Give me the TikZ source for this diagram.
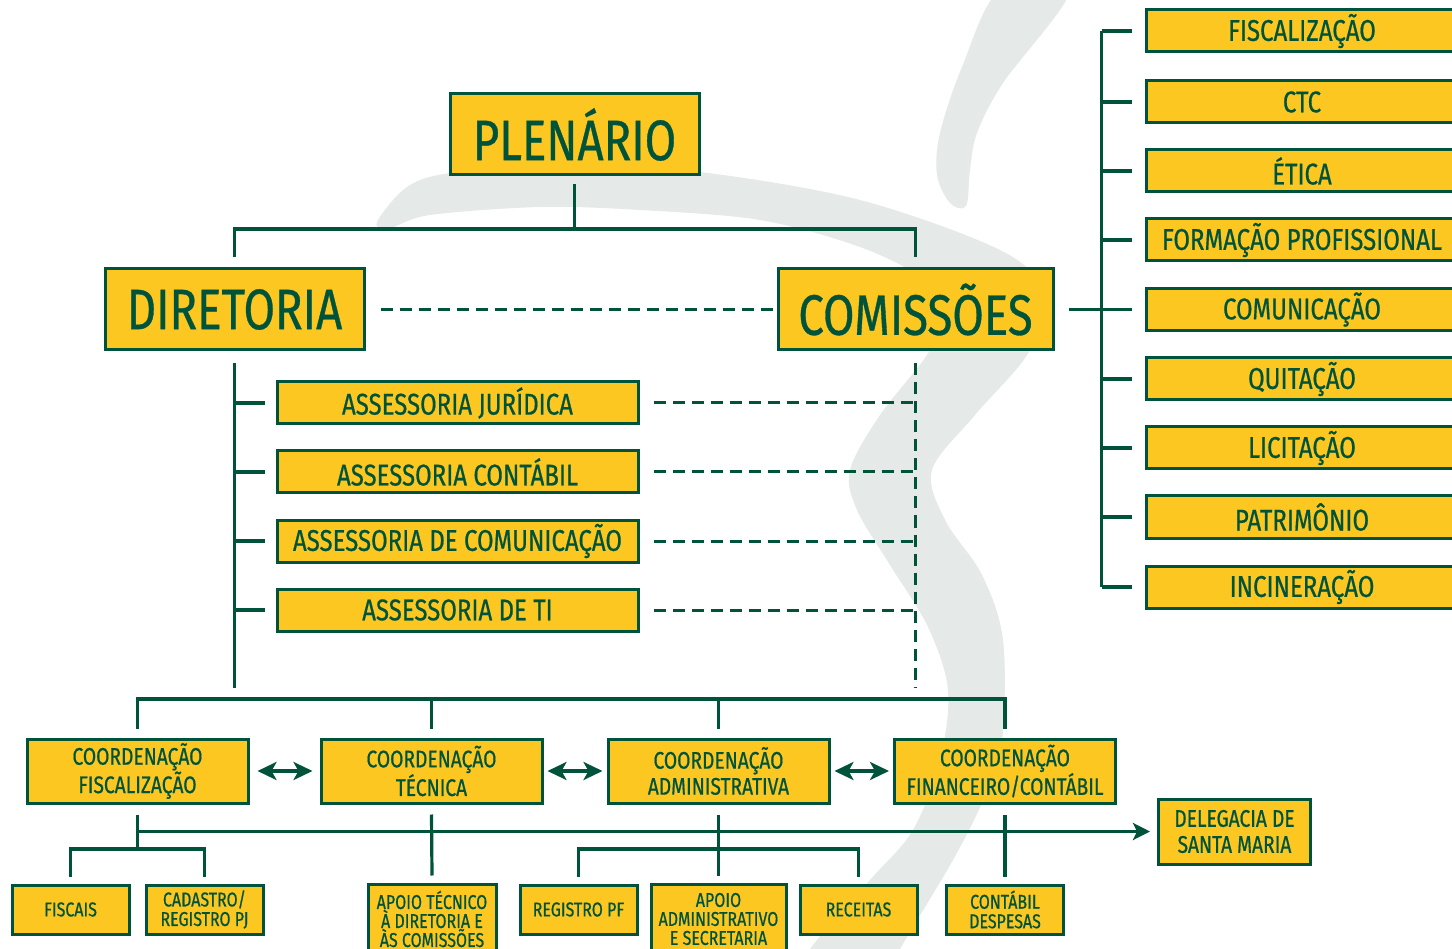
\documentclass[tikz,border=0pt]{standalone}
\usepackage{fontspec}
\setmainfont[FakeStretch=0.8, FakeBold=0.6]{Fira Sans}
\usetikzlibrary{arrows.meta}
\definecolor{ylw}{HTML}{FCC720}
\definecolor{grn}{HTML}{00533B}
\definecolor{bgg}{HTML}{E5E9E7}
\tikzset{
  box/.style={draw=grn, fill=ylw, line width=3pt, text=grn, align=center, inner sep=0pt, anchor=center},
  bigbox/.style={box, font=\fontsize{57}{60}\selectfont},
  midbox/.style={box, minimum height=42pt, font=\fontsize{30}{32}\selectfont},
  coordbox/.style={box, minimum width=221pt, minimum height=64pt, font=\fontsize{24}{26}\selectfont},
  smallbox/.style={box, minimum height=49pt, font=\fontsize{20}{19.5}\selectfont},
  conn/.style={draw=grn, line width=3.2pt},
  dashconn/.style={draw=grn, line width=3pt, dash pattern=on 12pt off 7pt},
  tip/.style={Stealth[length=19pt,width=18pt,inset=5pt]},
  darrow/.style={conn, {Stealth[length=19pt,width=18pt,inset=5pt]}-{Stealth[length=19pt,width=18pt,inset=5pt]}},
  sarrow/.style={conn, -{Stealth[length=17pt,width=17pt,inset=4pt]}}
}
\begin{document}
\begin{tikzpicture}[x=1pt,y=-1pt]
\useasboundingbox (0,0) rectangle (1452,949);
\clip (0,0) rectangle (1452,949);
\fill[white] (0,0) rectangle (1452,949);
% background swoosh
\fill[bgg] plot[smooth cycle, tension=0.55] coordinates {
 (377,222) (407,187) (450,173) (560,163) (700,172) (860,200) (1000,250) (1040,290)
 (1030,350) (975,415) (932,470) (945,520) (982,575) (1003,640) (1002,740) (983,800)
 (953,860) (900,949) (880,990) (790,990) (810,949) (870,880) (913,830) (940,760)
 (948,690) (928,627) (890,565) (857,510) (850,470) (880,415) (927,355) (945,315)
 (925,280) (860,247) (760,220) (640,210) (540,207) (430,215) (390,228)};
\fill[bgg] plot[smooth cycle, tension=0.55] coordinates {
 (1000,-10) (962,67) (940,133) (937,175) (950,203) (966,206) (970,170) (977,133)
 (1003,83) (1070,-10)};

% top level
\node[bigbox, minimum width=249pt, minimum height=81pt] (plen) at (574.5,134.5) {PLENÁRIO};
\node[bigbox, minimum width=259pt, minimum height=81pt] (dir) at (234.5,309.5) {DIRETORIA};
\node[bigbox, minimum width=275pt, minimum height=81pt] (com) at (915.5,309.5) {COMISSÕES};

\coordinate (j1) at (574.5,229);
\draw[conn] ([yshift=-8pt]plen.south) -- (j1);
\draw[conn] ([yshift=10pt]dir.north) |- (j1) -| ([yshift=10pt]com.north);
\draw[dashconn] ([xshift=15pt]dir.east) -- (com.west);

% assessorias
\node[midbox, minimum width=361pt] (a1) at (457.5,403) {ASSESSORIA JURÍDICA};
\node[midbox, minimum width=361pt] (a2) at (457.5,472) {ASSESSORIA CONTÁBIL};
\node[midbox, minimum width=361pt] (a3) at (457.5,541) {ASSESSORIA DE COMUNICAÇÃO};
\node[midbox, minimum width=361pt] (a4) at (457.5,610) {ASSESSORIA DE TI};

\coordinate (dbot) at (234.5,688);
\coordinate (cbot) at (915.5,688);
\draw[conn] ([yshift=-12pt]dir.south) -- (dbot);
\draw[dashconn] ([yshift=-12pt]com.south) -- (cbot);
\foreach \a in {a1,a2,a3,a4}{
  \draw[conn] (\a.west -| dbot) -- ([xshift=-11pt]\a.west);
  \draw[dashconn] ([xshift=14pt]\a.east) -- (\a.east -| cbot);
}

% comissoes list
\coordinate (ct) at (1101.5,309.5);
\draw[conn] ([xshift=14pt]com.east) -- (ct);
\foreach \n/\y/\t in {c1/31/FISCALIZAÇÃO, c2/102/CTC, c3/171/ÉTICA, c4/240/FORMAÇÃO PROFISSIONAL,
  c5/309.5/COMUNICAÇÃO, c6/379/QUITAÇÃO, c7/448/LICITAÇÃO, c8/517/PATRIMÔNIO, c9/587/INCINERAÇÃO}{
  \node[midbox, minimum width=312pt] (\n) at (1302,\y) {\t};
  \draw[conn] (\n.west -| ct) -- ([xshift=-13pt]\n.west);
}
\draw[conn] (c1.west -| ct) -- (c9.west -| ct);

% coordenacoes
\node[coordbox] (cf) at (137.5,771) {COORDENAÇÃO\\FISCALIZAÇÃO};
\node[coordbox] (ctec) at (431.5,771) {COORDENAÇÃO\\TÉCNICA};
\node[coordbox] (cadm) at (718.5,771) {COORDENAÇÃO\\ADMINISTRATIVA};
\node[coordbox] (cfin) at (1005,771) {COORDENAÇÃO\\FINANCEIRO/CONTÁBIL};

\coordinate (hb) at (0,699);
\draw[conn] ([yshift=9pt]cf.north) -- (cf.north |- hb) -- (cfin.north |- hb) -- ([yshift=9pt]cfin.north);
\draw[conn] (ctec.north |- hb) -- ([yshift=9pt]ctec.north);
\draw[conn] (cadm.north |- hb) -- ([yshift=9pt]cadm.north);

\draw[darrow] ([xshift=8pt]cf.east) -- ([xshift=-7pt]ctec.west);
\draw[darrow] ([xshift=4pt]ctec.east) -- ([xshift=-4pt]cadm.west);
\draw[darrow] ([xshift=4pt]cadm.east) -- ([xshift=-4pt]cfin.west);

% delegacia
\node[box, minimum width=152pt, minimum height=65pt, font=\fontsize{24}{26}\selectfont] (del) at (1234.5,831.5) {DELEGACIA DE\\SANTA MARIA};
\draw[sarrow] (cf.south |- del.west) -- ([xshift=-7pt]del.west);

% bottom boxes
\node[smallbox, minimum width=117pt] (fis) at (70.5,909.5) {FISCAIS};
\node[smallbox, minimum width=117pt] (cad) at (204.5,909.5) {CADASTRO/\\REGISTRO PJ};
\node[box, minimum width=128pt, minimum height=70pt, font=\fontsize{20}{19}\selectfont] (apt) at (432,919) {APOIO TÉCNICO\\À DIRETORIA E\\ÀS COMISSÕES};
\node[smallbox, minimum width=117pt] (rpf) at (578.5,909.5) {REGISTRO PF};
\node[box, minimum width=135pt, minimum height=70pt, font=\fontsize{20}{19}\selectfont] (apa) at (718.5,919) {APOIO\\ADMINISTRATIVO\\E SECRETARIA};
\node[smallbox, minimum width=117pt] (rec) at (858.5,909.5) {RECEITAS};
\node[smallbox, minimum width=117pt] (cdes) at (1005,909.5) {CONTÁBIL\\DESPESAS};

\coordinate (hk) at (0,849);
\draw[conn] ([yshift=-10pt]cf.south) -- (cf.south |- hk);
\draw[conn] ([yshift=7pt]fis.north) |- (cf.south |- hk) -| ([yshift=7pt]cad.north);
\draw[conn] ([yshift=-10pt]ctec.south) -- ([yshift=7pt]apt.north);
\draw[conn] ([yshift=-10pt]cadm.south) -- ([yshift=7pt]apa.north);
\draw[conn] ([yshift=7pt]rpf.north) |- (cadm.south |- hk) -| ([yshift=7pt]rec.north);
\draw[conn] ([yshift=-10pt]cfin.south) -- ([yshift=7pt]cdes.north);
\end{tikzpicture}
\end{document}
